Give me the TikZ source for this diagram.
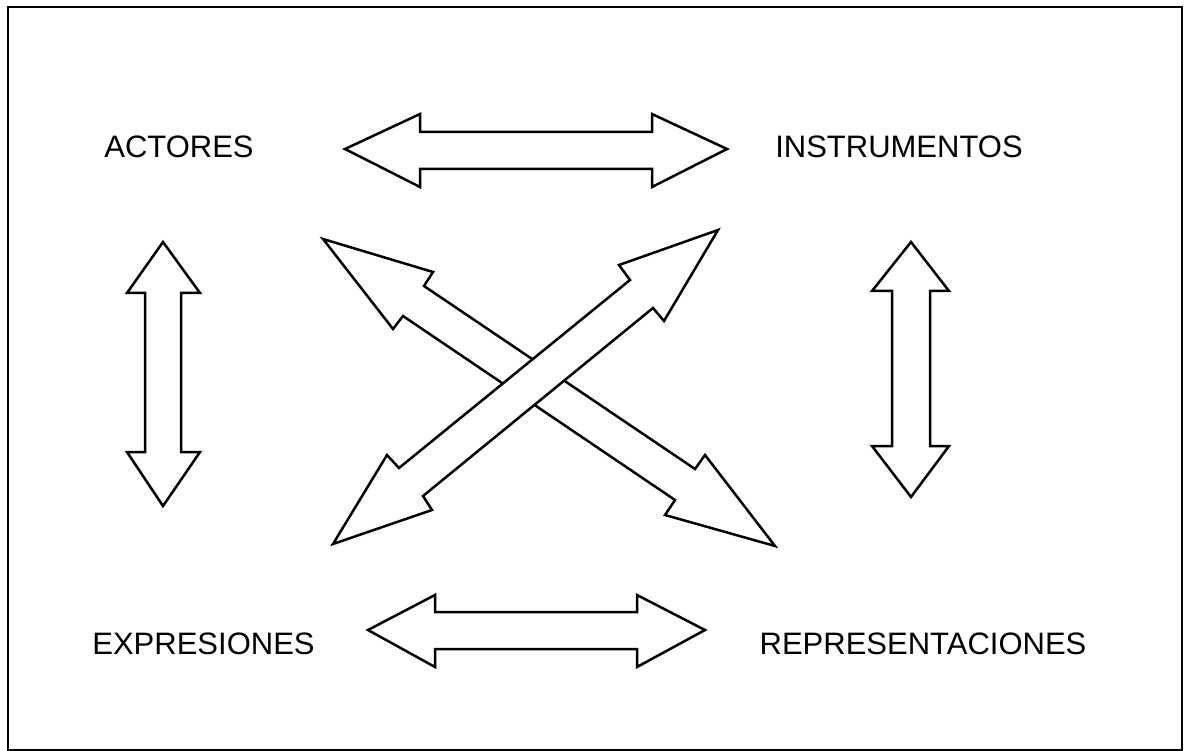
\documentclass[tikz,border=0pt]{standalone}
\usepackage{fontspec}
\setmainfont{Liberation Sans}
\begin{document}
\begin{tikzpicture}[x=1pt,y=-1pt,
  frame/.style={draw=black,line width=2pt},
  arrowshape/.style={draw=black,fill=white,line width=2.5pt,line join=miter},
  label/.style={inner sep=0pt,anchor=base,font=\fontsize{31}{36}\selectfont}]
\useasboundingbox (0,0) rectangle (1184,751);
\draw[frame] (7.5,7.5) rectangle (1182,749.5);
% labels
\node[label] (act) at (179,158) {ACTORES};
\node[label] (ins) at (899,158) {INSTRUMENTOS};
\node[label] (exp) at (203.5,654) {EXPRESIONES};
\node[label] (rep) at (923,654) {REPRESENTACIONES};
% top horizontal arrow
\draw[arrowshape] (345,149) -- (420,114) -- (420,132) -- (652,132) -- (652,114) -- (727,149)
  -- (652,187) -- (652,169) -- (420,169) -- (420,187) -- cycle;
% bottom horizontal arrow
\draw[arrowshape] (368,630) -- (435,595) -- (435,612) -- (637,612) -- (637,595) -- (705,630)
  -- (637,667) -- (637,649) -- (435,649) -- (435,667) -- cycle;
% left vertical arrow
\draw[arrowshape] (163,242) -- (200,293) -- (181,293) -- (181,452) -- (200,452) -- (163,506)
  -- (127,452) -- (145,452) -- (145,293) -- (127,293) -- cycle;
% right vertical arrow
\draw[arrowshape] (911,242) -- (949,291) -- (930,291) -- (930,446) -- (949,446) -- (911,497)
  -- (872,446) -- (892,446) -- (892,291) -- (872,291) -- cycle;
% diagonal NW-SE arrow
\draw[arrowshape] (323,239) -- (433,272) -- (424,286) -- (695,469) -- (705,455) -- (775,546)
  -- (665,515) -- (675,500) -- (403,316) -- (393,329) -- cycle;
% diagonal SW-NE arrow (on top)
\draw[arrowshape] (718,230) -- (619,265) -- (630,280) -- (399,468) -- (387,455) -- (333,544)
  -- (432,510) -- (423,496) -- (653,308) -- (664,321) -- cycle;
\end{tikzpicture}
\end{document}
